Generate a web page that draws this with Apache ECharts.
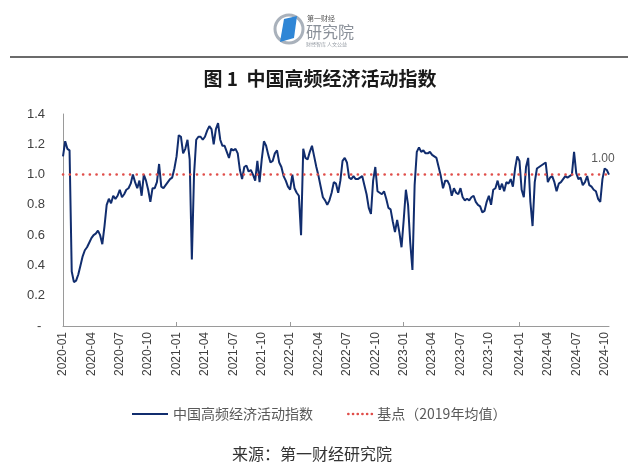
<!DOCTYPE html>
<html>
<head>
<meta charset="utf-8">
<script src="https://cdn.jsdelivr.net/npm/echarts@6/dist/echarts.min.js"></script>
<style>
html,body{margin:0;padding:0;background:#fff;}
#chart{width:640px;height:475px;}
</style>
</head>
<body>
<div id="chart"></div>
<script>
// weekly index values (first week 2020-01-05)
const startWeek = '2020-01-05';
const idx2020 = [1.12,1.22,1.17,1.16,0.36,0.29,0.30,0.34,0.40,0.46,
  0.50,0.52,0.55,0.58,0.60,0.61,0.63,0.60,0.54,0.66,
  0.80,0.84,0.81,0.86,0.84,0.86,0.90,0.85,0.87,0.90,
  0.91,0.94,1.00,0.95,0.91,0.96,0.86,1.00,0.96,0.90,
  0.82,0.91,0.91,0.95,1.07,0.92,0.91,0.93,0.95,0.97,
  0.98,1.04];
const idx2021 = [1.12,1.26,1.25,1.14,1.17,1.23,1.10,0.44,
  1.00,1.23,1.25,1.25,1.23,1.25,1.29,1.32,1.30,1.20,
  1.30,1.34,1.23,1.19,1.19,1.15,1.11,1.17,1.16,1.17,
  1.14,1.03,0.97,1.05,1.06,1.02,1.03,1.00,0.96,1.09,
  0.95,1.10,1.22,1.19,1.13,1.08,1.09,1.14,1.16,1.08,
  1.05,0.99,0.96,0.92];
const idx2022 = [0.90,1.00,0.91,0.88,0.86,0.60,
  1.17,1.11,1.10,1.15,1.19,1.12,1.05,0.99,0.92,0.85,
  0.83,0.80,0.83,0.88,0.95,0.94,0.88,0.96,1.09,1.11,
  1.08,0.98,0.97,0.99,0.97,0.97,0.98,0.99,0.93,0.87,
  0.78,0.74,0.96,1.05,0.89,0.88,0.87,0.89,0.84,0.78,
  0.77,0.69,0.62,0.70,0.62,0.52];
const idx2023 = [0.70,0.90,0.80,0.55,
  0.37,0.93,1.15,1.18,1.15,1.16,1.14,1.14,1.15,1.13,
  1.12,1.11,1.05,0.99,0.91,0.96,0.96,0.93,0.86,0.91,
  0.88,0.87,0.91,0.85,0.83,0.84,0.83,0.85,0.86,0.82,
  0.80,0.79,0.75,0.76,0.82,0.86,0.80,0.90,0.91,0.96,
  0.90,0.94,0.89,0.95,0.94,0.97,0.92,1.04,1.12];
const idx2024 = [1.09,
  0.90,0.85,1.05,1.11,0.82,0.66,0.95,1.04,1.05,1.06,
  1.07,1.08,0.95,0.98,0.99,0.95,0.89,0.94,0.95,0.97,
  0.99,0.98,0.99,1.00,1.15,1.01,0.97,0.98,0.93,0.95,
  0.99,0.93,0.92,0.90,0.89,0.84,0.82,0.97,1.04,1.03,1.00];
const baseValue = 1.0; // 2019 average
const yMin = 0, yMax = 1.4, yStep = 0.2;

const seriesName = '中国高频经济活动指数';
const baseName = '基点（2019年均值）';
const titleText = '图 1  中国高频经济活动指数';
const sourceText = '来源：第一财经研究院';

const indexValues = [].concat(idx2020, idx2021, idx2022, idx2023, idx2024);
const weekDates = [];
(function(){
  const t0 = Date.parse(startWeek + 'T00:00:00Z');
  for (let i = 0; i < indexValues.length; i++) {
    const d = new Date(t0 + i * 7 * 86400000);
    const m = String(d.getUTCMonth() + 1).padStart(2, '0');
    const dd = String(d.getUTCDate()).padStart(2, '0');
    weekDates.push(d.getUTCFullYear() + '-' + m + '-' + dd);
  }
})();
const lastIdx = indexValues.length - 1;

const navy = '#112d6e';
const red = '#e04e4a';
const dotStyle = {color: red, width: 2.6, type: [0.1, 6.6], cap: 'round'};

const chart = echarts.init(document.getElementById('chart'), null, {renderer: 'canvas'});
chart.setOption({
  animation: false,
  backgroundColor: '#fff',
  title: {
    text: titleText, left: 'center', top: 64,
    textStyle: {fontFamily: 'Noto Sans CJK SC', fontSize: 19, fontWeight: 'bold', color: '#1a1a1a'}
  },
  grid: {left: 63, right: 31, top: 114, bottom: 149, containLabel: false},
  legend: [
    {data: [seriesName], left: 126, top: 402, itemWidth: 36, itemHeight: 12,
     itemStyle: {opacity: 0},
     textStyle: {fontFamily: 'Noto Sans CJK SC', fontSize: 14, color: '#595959'}, selectedMode: false},
    {data: [baseName], left: 342, top: 402, itemWidth: 24, itemHeight: 12,
     itemStyle: {opacity: 0},
     lineStyle: {type: [0.1, 4.6], cap: 'round', width: 2.6},
     textStyle: {fontFamily: 'Noto Sans CJK SC', fontSize: 14, color: '#595959'}, selectedMode: false}
  ],
  xAxis: {
    type: 'category', data: weekDates, boundaryGap: false,
    axisLine: {lineStyle: {color: '#9a9a9a', width: 1}},
    axisTick: {show: true, inside: true, length: 4, lineStyle: {color: '#9a9a9a'},
      interval: function (i, v) { return i > 0 && v.slice(5, 7) === '01' && weekDates[i - 1].slice(5, 7) === '12'; }},
    axisLabel: {
      rotate: 90, margin: 6, fontSize: 12, color: '#404040', fontFamily: 'Liberation Sans',
      interval: function (i, v) {
        if (i === 0) return true;
        const m = +v.slice(5, 7), pm = +weekDates[i - 1].slice(5, 7);
        return m !== pm && m % 3 === 1;
      },
      formatter: function (v) { return v.slice(0, 7); }
    },
    splitLine: {show: false}
  },
  yAxis: {
    type: 'value', min: yMin, max: yMax, interval: yStep,
    axisLine: {show: true, lineStyle: {color: '#9a9a9a', width: 1}},
    axisTick: {show: false},
    splitLine: {show: false},
    axisLabel: {fontSize: 13, color: '#404040', fontFamily: 'Liberation Sans', margin: 18,
      formatter: function (v) { return v === 0 ? '- ' : v.toFixed(1); }}
  },
  series: [
    {
      name: seriesName, type: 'line', data: indexValues, symbol: 'none', z: 3,
      color: navy, lineStyle: {color: navy, width: 2},
      markPoint: {
        symbol: 'circle', symbolSize: 2, itemStyle: {color: 'rgba(0,0,0,0)'},
        data: [{coord: [lastIdx, indexValues[lastIdx]], value: indexValues[lastIdx]}],
        label: {show: true, position: 'top', distance: 9, offset: [-6, 0], fontSize: 12,
          fontFamily: 'Liberation Sans', color: '#595959',
          formatter: function (p) { return Number(p.value).toFixed(2); }}
      }
    },
    {
      name: baseName, type: 'line', data: [], symbol: 'none', z: 4,
      color: red, lineStyle: dotStyle,
      markLine: {
        silent: true, symbol: ['none', 'none'], label: {show: false},
        lineStyle: dotStyle, emphasis: {disabled: true},
        data: [{yAxis: baseValue}]
      }
    }
  ],
  graphic: [
    {type: 'line', shape: {x1: 10, y1: 57, x2: 628, y2: 57}, style: {stroke: '#3a3a3a', lineWidth: 1.5}},
    {type: 'circle', shape: {cx: 289, cy: 29, r: 14}, style: {fill: '#fff', stroke: '#a9b1bb', lineWidth: 3}},
    {type: 'polygon', shape: {points: [[284, 19], [297, 16], [294, 38], [280, 42]]}, style: {fill: '#2f86d6'}},
    {type: 'text', left: 307, top: 15, style: {text: '第一财经', fontSize: 7, fill: '#555', fontFamily: 'Noto Sans CJK SC'}},
    {type: 'text', left: 306, top: 24, style: {text: '研究院', fontSize: 16, fill: '#8a9099', fontFamily: 'Noto Sans CJK SC'}},
    {type: 'text', left: 306, top: 42, style: {text: '财经智库 人文公益', fontSize: 5, fill: '#9aa0a8', fontFamily: 'Noto Sans CJK SC'}},
    {type: 'text', left: 232, top: 446, style: {text: sourceText, fontSize: 16, fill: '#333', fontFamily: 'Noto Sans CJK SC'}}
  ]
});
</script>
</body>
</html>
